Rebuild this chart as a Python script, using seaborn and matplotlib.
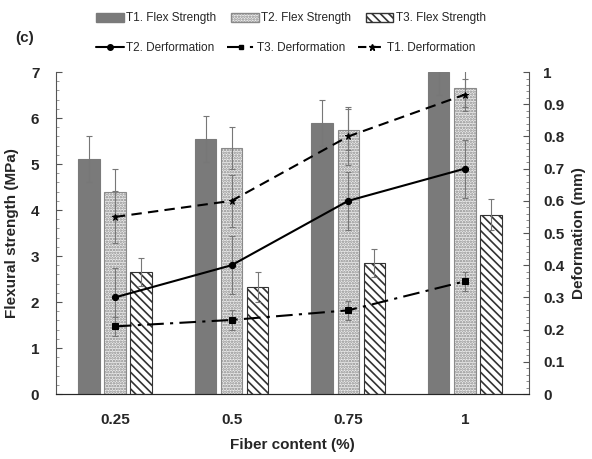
import matplotlib
matplotlib.use("Agg")

import matplotlib.pyplot as plt
import seaborn as sns
import pandas as pd
from matplotlib.patches import Patch
from matplotlib.lines import Line2D

fiber = ["0.25", "0.5", "0.75", "1"]

t1_flex = [5.1, 5.55, 5.9, 7.0]
t2_flex = [4.4, 5.35, 5.75, 6.65]
t3_flex = [2.65, 2.33, 2.85, 3.9]
t1_flex_err = [0.5, 0.5, 0.5, 0.5]
t2_flex_err = [0.5, 0.45, 0.45, 0.4]
t3_flex_err = [0.3, 0.33, 0.3, 0.33]

t1_def = [0.55, 0.6, 0.8, 0.93]
t2_def = [0.3, 0.4, 0.6, 0.7]
t3_def = [0.21, 0.23, 0.26, 0.35]
t1_def_err = [0.08, 0.08, 0.09, 0.05]
t2_def_err = [0.09, 0.09, 0.09, 0.09]
t3_def_err = [0.03, 0.03, 0.03, 0.03]

sns.set_style("white")
plt.rcParams["font.family"] = ["Liberation Sans", "DejaVu Sans"]
plt.rcParams["hatch.linewidth"] = 1.2

rows = []
for name, vals in [("T1", t1_flex), ("T2", t2_flex), ("T3", t3_flex)]:
    for f, v in zip(fiber, vals):
        rows.append({"fiber": f, "series": name, "flex": v})
df = pd.DataFrame(rows)

fig = plt.figure(figsize=(5.92, 4.59), dpi=100)
ax = fig.add_axes([0.0946, 0.1416, 0.799, 0.7014])

sns.barplot(data=df, x="fiber", y="flex", hue="series", order=fiber,
            palette=["#7a7a7a", "#ececec", "white"], width=0.67, gap=0.18,
            errorbar=None, legend=False, ax=ax, saturation=1)

styles = [("#7a7a7a", "#7a7a7a", None), ("#8a8a8a", "#ececec", "......"),
          ("#333333", "white", "\\\\\\\\")]
for cont, (ec, fc, hatch) in zip(ax.containers, styles):
    for p in cont:
        p.set_edgecolor(ec)
        p.set_facecolor(fc)
        p.set_linewidth(0.8)
        if hatch:
            p.set_hatch(hatch)

xs = list(range(len(fiber)))
off = 0.223
for shift, vals, errs in [(-off, t1_flex, t1_flex_err), (0, t2_flex, t2_flex_err),
                          (off, t3_flex, t3_flex_err)]:
    ax.errorbar([x + shift for x in xs], vals, yerr=errs, fmt="none",
                ecolor="#777777", elinewidth=0.8, capsize=2.5, capthick=0.8)

ax.set_xlim(-0.505, 3.55)
ax.set_ylim(0, 7)
ax.set_yticks(range(0, 8))
ax.set_yticks([i * 0.2 for i in range(36)], minor=True)
ax.set_xticks([x + 0.5 for x in xs[:-1]], minor=True)
ax.tick_params(axis="x", which="both", direction="in", length=4, width=0.8,
               color="#555555", pad=14)
ax.tick_params(axis="y", which="major", direction="in", length=4, pad=12,
               color="#555555")
ax.tick_params(axis="y", which="minor", direction="in", length=2, color="#888888")
for lab in ax.get_xticklabels() + ax.get_yticklabels():
    lab.set_fontweight("bold")
    lab.set_fontsize(11)
ax.set_xlabel("Fiber content (%)", fontsize=11, fontweight="bold", va="center")
ax.xaxis.set_label_coords(0.5, -0.158)
ax.set_ylabel("Flexural strength (MPa)", fontsize=11, fontweight="bold")
ax.yaxis.set_label_coords(-0.078, 0.5)
ax.spines["top"].set_visible(False)
ax.spines["right"].set_visible(False)
ax.spines["left"].set_color("#555555")
ax.spines["bottom"].set_color("#555555")

ax2 = ax.twinx()
ax2.set_ylim(0, 1)
line_specs = [
    (t2_def, t2_def_err, "-", "o", 4.5),
    (t3_def, t3_def_err, (0, (8, 3, 1.5, 3)), "s", 4),
    (t1_def, t1_def_err, (0, (5, 3)), "*", 5),
]
for vals, errs, ls, mk, ms in line_specs:
    ax2.errorbar(xs, vals, yerr=errs, fmt="none", ecolor="#777777",
                 elinewidth=0.8, capsize=2, capthick=0.8)
    sns.lineplot(x=xs, y=vals, ax=ax2, color="black", linewidth=1.5,
                 linestyle=ls, marker=mk, markersize=ms, markeredgecolor="black")
ax2.set_yticks([i / 10 for i in range(11)])
ax2.set_yticklabels(["0"] + [f"{i/10:g}" for i in range(1, 10)] + ["1"])
ax2.set_yticks([i / 50 for i in range(51)], minor=True)
ax2.tick_params(axis="y", which="major", direction="in", length=4, pad=10,
                color="#555555")
ax2.tick_params(axis="y", which="minor", direction="in", length=2, color="#777777")
for lab in ax2.get_yticklabels():
    lab.set_fontweight("bold")
    lab.set_fontsize(11)
ax2.set_ylabel("Deformation (mm)", fontsize=11, fontweight="bold", labelpad=6)
ax2.spines["top"].set_visible(False)
ax2.spines["left"].set_visible(False)
ax2.spines["right"].set_color("#555555")

bar_handles = [
    Patch(facecolor="#7a7a7a", edgecolor="#7a7a7a", label="T1. Flex Strength"),
    Patch(facecolor="#ececec", edgecolor="#8a8a8a", hatch="......", label="T2. Flex Strength"),
    Patch(facecolor="white", edgecolor="#333333", hatch="\\\\\\\\", label="T3. Flex Strength"),
]
line_handles = [
    Line2D([], [], color="black", lw=1.5, ls="-", marker="o", ms=4, label="T2. Derformation"),
    Line2D([], [], color="black", lw=1.5, ls=(0, (8, 3, 1.5, 3)), marker="s", ms=3.5,
           label="T3. Derformation"),
    Line2D([], [], color="black", lw=1.5, ls=(0, (4, 3)), marker="*", ms=4.5,
           label="T1. Derformation"),
]
legend_font = {"family": ["Liberation Sans Narrow", "Liberation Sans"], "size": 8.5}
fig.legend(handles=bar_handles, loc="center left", bbox_to_anchor=(0.145, 0.96),
           ncol=3, frameon=False, prop=legend_font, handlelength=2.3,
           handleheight=0.8, handletextpad=0.2, columnspacing=1.3)
fig.legend(handles=line_handles, loc="center left", bbox_to_anchor=(0.145, 0.895),
           ncol=3, frameon=False, prop=legend_font, handlelength=2.3,
           handletextpad=0.2, columnspacing=1.1)
fig.text(0.025, 0.918, "(c)", fontsize=11, fontweight="bold", va="center")

fig.savefig("out.png", dpi=100)
